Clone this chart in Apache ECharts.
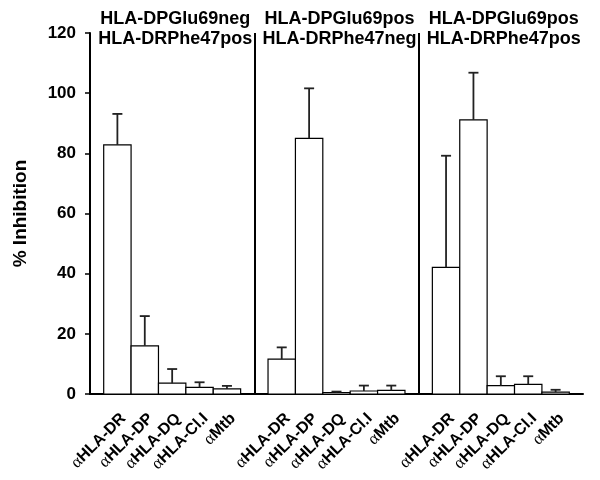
<!DOCTYPE html>
<html>
<head>
<meta charset="utf-8">
<script src="https://cdn.jsdelivr.net/npm/echarts@6/dist/echarts.min.js"></script>
<style>
  html, body { margin: 0; padding: 0; background: #fff; }
  #main { width: 600px; height: 480px; }
</style>
</head>
<body>
<div id="main"></div>
<script>
// 抗体（每组相同）
var antibodies = ['HLA-DR', 'HLA-DP', 'HLA-DQ', 'HLA-Cl.I', 'Mtb'];

// 各组标题
var groupTitles = [
    ['HLA-DPGlu69neg', 'HLA-DRPhe47pos'],
    ['HLA-DPGlu69pos', 'HLA-DRPhe47neg'],
    ['HLA-DPGlu69pos', 'HLA-DRPhe47pos']
];

// % Inhibition 平均值
var meanG1 = [82.8, 16.0, 3.6, 2.2, 1.7];
var meanG2 = [11.6, 85.0, 0.5, 1.0, 1.2];
var meanG3 = [42.1, 91.1, 2.8, 3.2, 0.6];

// 误差（只画上半部分）
var errG1 = [10.3, 9.9, 4.7, 1.7, 1.0];
var errG2 = [3.9, 16.6, 0.3, 1.8, 1.6];
var errG3 = [37.1, 15.7, 3.1, 2.7, 0.8];

var yTicks = { min: 0, max: 120, interval: 20 };

var FONT = 'Liberation Sans, Arial, sans-serif';

// 组合数据：x位置 = 组号*6 + 序号
var means = [meanG1, meanG2, meanG3];
var errs = [errG1, errG2, errG3];
var barData = [];
var labelMap = {};
means.forEach(function (arr, g) {
    arr.forEach(function (v, i) {
        var x = g * 6 + i;
        barData.push([x, v, errs[g][i]]);
        labelMap[x] = antibodies[i];
    });
});
var titleData = groupTitles.map(function (t, g) { return [g * 6 + 2, g]; });

var chart = echarts.init(document.getElementById('main'));

var option = {
    animation: false,
    grid: { left: 90, right: 17, top: 33, bottom: 86 },
    xAxis: {
        type: 'value',
        min: -1,
        max: 17,
        interval: 1,
        splitLine: { show: false },
        axisTick: { show: false },
        axisLine: { show: true, onZero: false, lineStyle: { color: '#000', width: 2 } },
        axisLabel: {
            rotate: 45,
            margin: 16,
            verticalAlign: 'top',
            showMinLabel: true,
            showMaxLabel: true,
            formatter: function (v) {
                var name = labelMap[Math.round(v)];
                return name ? '{a|α}{b|' + name + '}' : '';
            },
            rich: {
                a: { fontFamily: 'Liberation Serif, serif', fontSize: 17, color: '#000' },
                b: { fontFamily: FONT, fontWeight: 'bold', fontSize: 16, color: '#000' }
            }
        }
    },
    yAxis: {
        type: 'value',
        min: yTicks.min,
        max: yTicks.max,
        interval: yTicks.interval,
        name: '% Inhibition',
        nameLocation: 'middle',
        nameGap: 60,
        nameTextStyle: { fontFamily: FONT, fontWeight: 'bold', fontSize: 19, color: '#000' },
        splitLine: { show: false },
        axisLine: { show: true, onZero: false, lineStyle: { color: '#000', width: 2 } },
        axisTick: { show: true, length: 5, lineStyle: { color: '#000', width: 1.5 } },
        axisLabel: { margin: 14, fontFamily: FONT, fontWeight: 'bold', fontSize: 17, color: '#000' }
    },
    series: [
        {
            // 柱子
            type: 'custom',
            data: barData,
            renderItem: function (params, api) {
                var x = api.value(0), y = api.value(1);
                var p0 = api.coord([x - 0.5, 0]);
                var p1 = api.coord([x + 0.5, y]);
                return {
                    type: 'rect',
                    shape: { x: p0[0], y: p1[1], width: p1[0] - p0[0], height: p0[1] - p1[1] },
                    style: { fill: '#fff', stroke: '#000', lineWidth: 1.2 }
                };
            },
            markLine: {
                silent: true,
                symbol: 'none',
                label: { show: false },
                lineStyle: { color: '#000', width: 2, type: 'solid' },
                data: [{ xAxis: 5 }, { xAxis: 11 }]
            },
            z: 2
        },
        {
            // 误差线
            type: 'custom',
            data: barData,
            renderItem: function (params, api) {
                var x = api.value(0), y = api.value(1), e = api.value(2);
                var base = api.coord([x, y]);
                var top = api.coord([x, y + e]);
                var style = { stroke: '#222', lineWidth: 1.8 };
                return {
                    type: 'group',
                    children: [
                        { type: 'line', shape: { x1: base[0], y1: base[1], x2: top[0], y2: top[1] }, style: style },
                        { type: 'line', shape: { x1: top[0] - 5, y1: top[1], x2: top[0] + 5, y2: top[1] }, style: style }
                    ]
                };
            },
            z: 3
        },
        {
            // 组标题
            type: 'custom',
            data: titleData,
            clip: false,
            renderItem: function (params, api) {
                var p = api.coord([api.value(0), yTicks.max]);
                var t = groupTitles[api.value(1)];
                var ts = { fill: '#000', font: 'bold 18px ' + FONT, textAlign: 'center', textVerticalAlign: 'middle' };
                return {
                    type: 'group',
                    children: [
                        { type: 'text', x: p[0] + 3, y: p[1] - 14, style: Object.assign({ text: t[0] }, ts) },
                        { type: 'text', x: p[0] + 3, y: p[1] + 6, style: Object.assign({ text: t[1] }, ts) }
                    ]
                };
            },
            z: 4
        }
    ]
};

chart.setOption(option);
</script>
</body>
</html>
